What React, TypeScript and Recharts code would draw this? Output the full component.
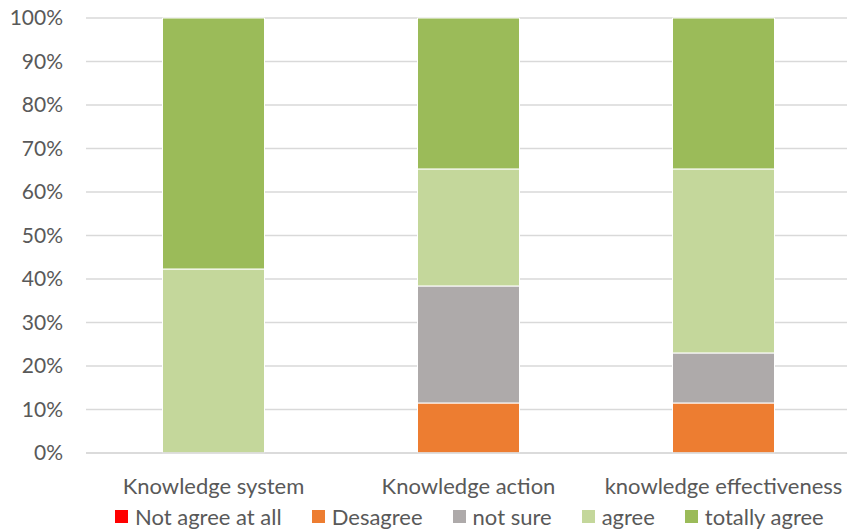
import React from 'react';
import { BarChart, Bar, XAxis, YAxis, CartesianGrid, Legend } from 'recharts';

const categories = ['Knowledge system', 'Knowledge action', 'knowledge effectiveness'];
const notAgreeAtAll = [0, 0, 0];
const desagree = [0, 11.5, 11.5];
const notSure = [0, 26.9, 11.5];
const agree = [42.3, 26.9, 42.3];
const totallyAgree = [57.7, 34.7, 34.7];
const yTicks = [0, 0.1, 0.2, 0.3, 0.4, 0.5, 0.6, 0.7, 0.8, 0.9, 1];

const SERIES = [
  { key: 'notAgreeAtAll', name: 'Not agree at all', color: '#FF0000', values: notAgreeAtAll },
  { key: 'desagree', name: 'Desagree', color: '#ED7D31', values: desagree },
  { key: 'notSure', name: 'not sure', color: '#AEAAAA', values: notSure },
  { key: 'agree', name: 'agree', color: '#C4D79B', values: agree },
  { key: 'totallyAgree', name: 'totally agree', color: '#9BBB59', values: totallyAgree },
];

const data = categories.map((name, i) => {
  const row: Record<string, string | number> = { name };
  SERIES.forEach((s) => {
    row[s.key] = s.values[i];
  });
  return row;
});

const FONT = 'Lato, "Open Sans", sans-serif';
const TEXT = '#595959';

function LegendRow() {
  return (
    <div
      style={{
        display: 'flex',
        justifyContent: 'flex-start',
        alignItems: 'center',
        gap: 30,
        height: 31,
        paddingLeft: 115,
        fontFamily: FONT,
        fontSize: 22,
        color: TEXT,
      }}
    >
      {SERIES.map((s) => (
        <div key={s.key} style={{ display: 'flex', alignItems: 'center', gap: 7 }}>
          <span style={{ width: 13, height: 13, background: s.color, display: 'inline-block' }} />
          <span>{s.name}</span>
        </div>
      ))}
    </div>
  );
}

export default function App() {
  return (
    <div
      style={{
        position: 'absolute',
        left: 0,
        top: 0,
        width: 847,
        height: 532,
        overflow: 'hidden',
        background: '#fff',
      }}
    >
      <BarChart
        width={851}
        height={532}
        data={data}
        stackOffset="expand"
        barCategoryGap="30%"
        margin={{ top: 18, right: 0, left: 0, bottom: 0 }}
      >
        <CartesianGrid vertical={false} stroke="#D9D9D9" strokeWidth={1.5} />
        <XAxis
          dataKey="name"
          height={48}
          tickLine={false}
          axisLine={{ stroke: '#D9D9D9', strokeWidth: 1.5 }}
          tickSize={0}
          tickMargin={25}
          tick={{ fill: TEXT, fontSize: 22, fontFamily: FONT }}
        />
        <YAxis
          width={86}
          domain={[0, 1]}
          ticks={yTicks}
          tickFormatter={(v: number) => `${Math.round(v * 100)}%`}
          axisLine={false}
          tickLine={false}
          tickSize={0}
          tickMargin={23}
          tick={{ fill: TEXT, fontSize: 21, fontFamily: FONT }}
        />
        <Legend verticalAlign="bottom" height={31} content={() => <LegendRow />} />
        {SERIES.map((s) => (
          <Bar
            key={s.key}
            dataKey={s.key}
            name={s.name}
            stackId="a"
            fill={s.color}
            stroke="#fff"
            strokeWidth={1}
            isAnimationActive={false}
          />
        ))}
      </BarChart>
    </div>
  );
}
